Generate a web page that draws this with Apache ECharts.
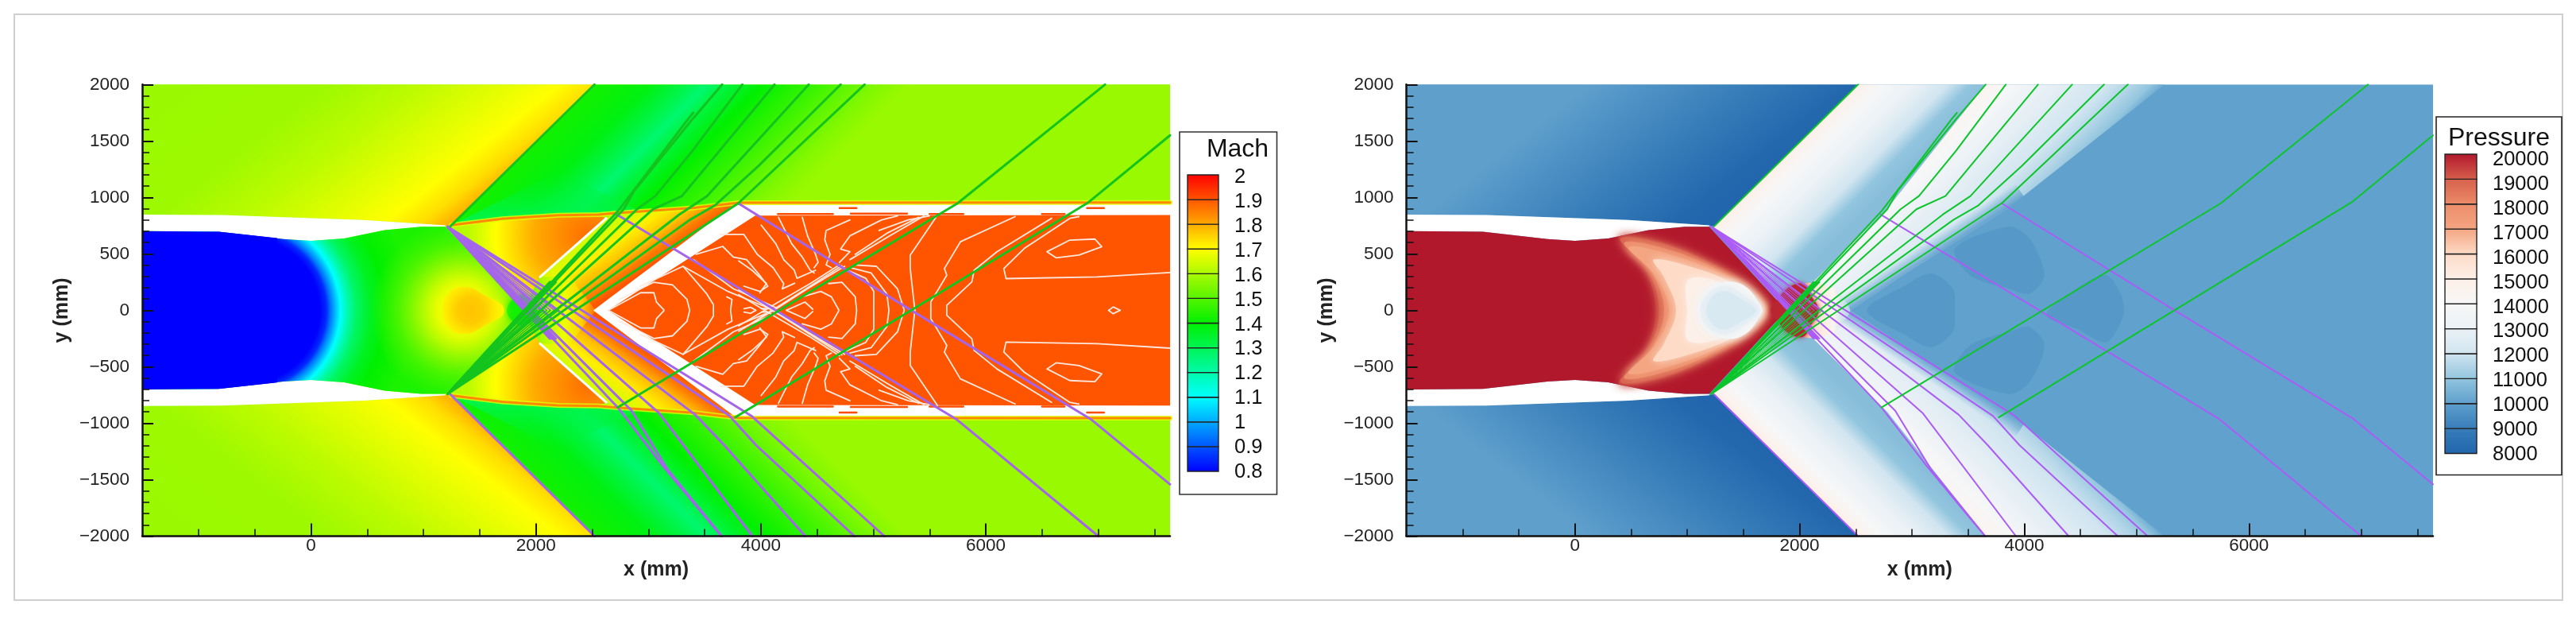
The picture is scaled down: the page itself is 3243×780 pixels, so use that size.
<!DOCTYPE html>
<html><head><meta charset="utf-8">
<style>html,body{margin:0;padding:0;background:#fff}#c{width:3243px;height:780px}</style>
<script src="https://cdn.jsdelivr.net/npm/echarts@6/dist/echarts.min.js"></script>
</head><body><div id="c"></div>
<script>
// ---------- axes ----------
const X_MIN=-1500, X_MAX=7638, Y_MIN=-2000, Y_MAX=2000;
const xMajorTicks=[0,2000,4000,6000];
const xMinorTicks=[-1000,-500,500,1000,1500,2500,3000,3500,4500,5000,5500,6500,7000,7500];
const machLevels=[0.8,0.9,1,1.1,1.2,1.3,1.4,1.5,1.6,1.7,1.8,1.9,2];
const pressureLevels=[8000,9000,10000,11000,12000,13000,14000,15000,16000,17000,18000,19000,20000];
// ---------- colour tables (value, r, g, b) ----------
const machColors=[[0.8,0,0,255],[1.1,0,255,255],[1.4,0,240,0],[1.7,255,255,0],[2,255,0,0]];
const pressureColors=[[8000,33,102,172],[9000,55,125,185],[10000,94,159,204],[11000,146,197,222],[12000,209,229,240],[13000,235,241,246],[14000,247,247,247],[15000,253,240,232],[16000,253,219,199],[17000,244,165,130],[18000,236,140,105],[19000,214,96,77],[20000,178,24,43]];
// ---------- geometry (mm) ----------
const wallInner=[[-1500,702],[-820,696],[-245,631],[0,616],[295,637],[655,711],[980,740],[1195,740]];
const wallOuter=[[-1500,848],[-785,844],[475,800],[1195,752]];
const shockTop=[[1238,743],[2521,2000]];
const shockBottom=[[1238,-743],[2521,-2000]];
const bandEdge=[[1248,754],[1700,810],[2200,842],[2555,848],[2696,860],[3402,907],[3802,953],[7638,955]];
const thinWall=[[2037,296],[2625,815]];
const outerPts=[[-1500,2000],[2521,2000],[1238,743],[1195,752],[475,800],[-785,844],[-1500,848]];
const machOuterStops=[[-2500,1.58],[-1500,1.585],[-1000,1.62],[-500,1.67],[-212,1.7],[0,1.74],[173,1.8]];
const pressOuterStops=[[-2500,10000],[-1500,10000],[-620,9000],[-64,8100],[173,8000]];
const bandPts=[[1238,743],[2521,2000],[7638,2000],[7638,955],[3802,953],[3402,907],[2696,860],[2555,848],[2200,842],[1700,810],[1248,754]];
const machBandStops=[[530,1.42],[1000,1.38],[1300,1.32],[1505,1.27],[1700,1.33],[2000,1.4],[2500,1.47],[3000,1.55],[3300,1.58],[6700,1.58]];
const cornerTint=[[1248,754],[2200,1230],[2900,890],[2696,860],[2200,842],[1700,810]];
const wedgePts=[[1215,745],[1248,754],[1700,810],[2200,842],[2555,848],[2625,815],[2037,296],[1880,0]];
const machWedgeStops=[[0,1.87],[470,1.8],[820,1.7],[1060,1.62],[1400,1.6]];
const rearPts=[[1950,0],[2037,296],[2625,815],[2696,860],[3402,907],[3802,953],[3900,875],[2531,0]];
const machRearStops=[[900,1.65],[1050,1.72],[1200,1.78],[1300,1.85],[1400,1.9]];
const crossPts=[[1880,0],[2037,296],[2300,300],[2531,0]];
const machCrossStops=[[1850,1.45],[2050,1.6],[2250,1.68],[2400,1.75],[2530,1.87]];
const ductWhite=[[2510,0],[3780,950],[7638,950],[7638,-950],[3780,-950]];
const ductCore=[[2640,0],[3950,838],[7638,844],[7638,-844],[3950,-838]];
const inletPts=[[-1500,702],[-820,696],[-300,640],[-300,-640],[-820,-696],[-1500,-702]];
const throatStops=[[0,0.8],[642,0.8],[700,0.85],[732,0.93],[822,1.1],[892,1.2],[962,1.28],[1092,1.36],[1217,1.4],[1469,1.43],[2400,1.43]];
const glowStops=[[0,1.7,1],[180,1.7,1],[350,1.62,0.95],[600,1.5,0.75],[820,1.48,0]];
const bubblePts=[[1177,0],[1231,163],[1375,207],[1519,148],[1717,0]];
const bubbleStops=[[0,1.77],[120,1.76],[230,1.72],[330,1.69]];
const greenSpot=[[1740,0],[1880,140],[2000,0]];
// pressure regions
const pressBandA=[[1238,743],[2521,2000],[3656,2000],[2780,900],[2100,230],[1880,0],[1215,740]];
const pressBandAStops=[[500,15000],[700,14000],[1000,13000],[1300,12000],[1500,11000],[1700,10800]];
const pressBandB=[[3656,2000],[5250,2000],[3850,900],[2900,300],[2450,0],[1880,0],[2100,230],[2780,900]];
const pressBandBStops=[[1656,14500],[1850,14000],[2124,13000],[2428,12500],[2710,12000],[2922,11500],[3100,11000],[3250,10000]];
const pressFade=[[2450,0],[2900,300],[3850,900],[4000,1000],[3916,1130],[3766,1030],[2816,430],[2366,130]];
const pressCrossPts=[[1800,0],[2050,240],[2300,200],[2450,0]];
const pressCrossStops=[[1800,19000],[2000,17000],[2150,15500],[2300,14500],[2450,11500]];
const pressBlob=[[1744,0],[1800,90],[1900,200],[2030,235],[2100,130],[2170,0]];
const level19500=[[720,0],[610,390],[390,650],[790,600],[1270,395],[1590,210],[1730,0]];
const level19000=[[748,0],[640,370],[405,637],[820,578],[1288,370],[1576,193],[1720,0]];
const level18000=[[795,0],[680,340],[440,600],[875,525],[1305,340],[1576,163],[1705,0]];
const level17000=[[838,0],[712,311],[480,560],[928,470],[1324,311],[1576,133],[1690,0]];
const level16000=[[900,0],[790,300],[700,450],[1050,380],[1400,240],[1660,0]];
const level15000=[[1000,0],[1000,260],[1180,281],[1468,163],[1648,0]];
const level14000=[[1090,0],[1180,193],[1396,252],[1540,193],[1648,50],[1670,0]];
const level13000=[[1115,0],[1180,150],[1350,215],[1504,130],[1650,0]];
const level12300=[[1170,0],[1230,130],[1340,170],[1480,100],[1620,0]];
const patchA=[[2600,0],[2945,222],[3173,326],[3363,193],[3382,0]];
const patchB=[[3382,548],[3856,741],[4046,637],[4179,311],[4046,148],[3856,193],[3515,311]];
const patchD=[[4730,311],[4862,133],[4881,-44],[4730,-281],[4464,-163],[4198,-44],[4464,193]];
// ---------- characteristic lines ----------
const greenLong=[[[2728,-860],[5749,948],[7060,2000]],[[3772,-948],[6914,957],[7638,1550]]];
const greenFan=[
 [[1215,-740],[2780,895],[2874,1059],[3392,1693],[3656,2000]],
 [[1215,-740],[2730,880],[2900,1100],[3350,1690],[3400,1750]],
 [[1215,-740],[2898,895],[3062,1012],[3391,1411],[3835,2000]],
 [[1215,-740],[3039,895],[3298,1012],[4122,2000]],
 [[1215,-740],[3274,848],[3521,1012],[4426,2000]],
 [[1215,-740],[3368,801],[3592,930],[3980,1280],[4710,2000]],
 [[1215,-740],[3799,948],[4922,2000]]];
const denseEndsX=[2123,2136,2149,2162,2176];
const thinEndsX=[1986,2011,2037,2066,2096,2129,2164,2202];
const purpleLong=[[[2721,848],[5736,-963],[7000,-2000]],[[3799,948],[5337,0],[6932,-963],[7638,-1541]]];
const purpleFan=[
 [[1215,740],[2733,-866],[3133,-1382],[3651,-2000]],
 [[1215,740],[2851,-889],[3168,-1406],[3651,-2000]],
 [[1215,740],[3098,-913],[3925,-2000]],
 [[1215,740],[3415,-924],[3674,-1194],[4395,-2000]],
 [[1215,740],[3722,-936],[3957,-1194],[4832,-2000]],
 [[1215,740],[3913,-933],[5098,-2000]]];
// ---------- Mach iso-lines in the duct (upper half, mirrored below) ----------
const contours=[
 [[2649,3],[2931,156],[3049,156],[3072,73],[3138,3]],
 [[2742,96],[3049,249],[3214,226],[3343,97],[3367,3]],
 [[2931,215],[3308,390],[3520,144],[3578,50],[3578,0]],
 [[3425,496],[3661,566],[3755,472],[3873,449],[3991,308],[4062,214],[3991,167],[3849,214]],
 [[3637,672],[3849,672],[3968,496],[4109,378],[4203,237],[4190,190],[4300,240]],
 [[3803,437],[3921,355],[4050,237],[3991,155]],
 [[4003,754],[4133,590],[4203,449],[4297,355],[4321,284],[4486,355]],
 [[4156,824],[4274,590],[4368,472],[4439,355],[4474,331]],
 [[4368,824],[4415,660],[4486,496],[4509,425],[4474,378]],
 [[4792,801],[4580,707],[4568,625],[4615,496],[4580,402],[4627,378]],
 [[5215,836],[5074,801],[4792,660],[4709,543],[4792,519],[4698,425]],
 [[5051,707],[5310,801],[5498,836]],
 [[4839,496],[5121,683],[5404,824]],
 [[4792,449],[5145,660],[5451,836]],
 [[3803,-185],[4156,26],[4415,191],[4745,390]],
 [[3803,-138],[4156,73],[4439,237],[4698,402]],
 [[3860,-150],[4180,50],[4440,215],[4720,395]],
 [[4227,0],[4392,73],[4462,10]],
 [[4368,120],[4533,167],[4627,120],[4693,3]],
 [[4603,237],[4721,249],[4839,120],[4851,3]],
 [[4745,367],[4933,284],[5004,167],[5004,3]],
 [[4792,378],[4980,331],[5121,143],[5138,3]],
 [[4839,402],[5027,390],[5215,190],[5274,3]],
 [[5571,844],[5328,488],[5328,370],[5369,0]],
 [[6261,830],[5774,607],[5632,370],[5653,311],[5511,74],[5511,0]],
 [[6585,815],[6099,519],[5896,355],[5876,252],[5653,44],[5653,0]],
 [[7638,335],[6990,296],[6180,281],[6160,370],[6342,548],[6747,815],[6828,830]],
 [[6544,519],[6747,622],[6970,631],[7031,563],[6828,489],[6625,465],[6544,519]],
 [[7092,0],[7133,30],[7194,0]],
 [[3697,120],[3743,96],[3731,3]],
 [[4002,15],[4085,15],[4085,0]],
 [[3850,15],[3908,27],[3955,0]],
 [[3308,390],[3708,167],[4108,3]],
 [[3402,449],[3755,191],[4131,26]]];
const wallNotches=[[[4152,853],[4640,853]],[[4800,856],[5300,856]],[[5500,853],[5800,853]],[[6500,853],[6700,853]],[[4700,905],[4850,905]],[[6900,905],[7050,905]]];

// ---------- helpers ----------
const hex=(r,g,b,a)=>`rgba(${Math.round(r)},${Math.round(g)},${Math.round(b)},${a==null?1:a})`;
function cmap(tbl,v,a){
  if(v<=tbl[0][0])return hex(tbl[0][1],tbl[0][2],tbl[0][3],a);
  for(let i=1;i<tbl.length;i++)if(v<=tbl[i][0]){
    const p=tbl[i-1],q=tbl[i],t=(v-p[0])/(q[0]-p[0]);
    return hex(p[1]+t*(q[1]-p[1]),p[2]+t*(q[2]-p[2]),p[3]+t*(q[3]-p[3]),a);
  }
  const l=tbl[tbl.length-1];return hex(l[1],l[2],l[3],a);
}
const flip=p=>p.map(q=>[q[0],-q[1]]);
const sym=p=>p.concat(flip(p).slice(1,-1).reverse());
const nozzlePts=wallInner.concat([[1880,0]],flip(wallInner).reverse());
const wallPts=wallOuter.concat(wallInner.slice().reverse());
const plotRect=[[X_MIN,Y_MAX],[X_MAX,Y_MAX],[X_MAX,Y_MIN],[X_MIN,Y_MIN]];
const OUTER_N=[0.618,-0.786], BAND_N=[0.7071,-0.7071], REAR_N=[0.57,-0.82], FADE_N=[0.545,-0.838];
const bandScale=s=>s.map(q=>[q[0]*0.7071,q[1]]);

function mirrorAll(layers){
  const out=[];
  layers.forEach(l=>{
    out.push(l);
    if(l.mirror){
      const m=Object.assign({},l,{pts:flip(l.pts)});
      if(l.lin)m.lin={n:[l.lin.n[0],-l.lin.n[1]],stops:l.lin.stops};
      if(l.rad)m.rad={c:[l.rad.c[0],-l.rad.c[1]],stops:l.rad.stops};
      out.push(m);
    }
  });
  return out;
}
const machLayers=mirrorAll([
 {pts:plotRect,val:1.58},
 {pts:outerPts,mirror:1,lin:{n:OUTER_N,stops:machOuterStops}},
 {pts:bandPts,mirror:1,lin:{n:BAND_N,stops:bandScale(machBandStops)}},
 {pts:cornerTint,mirror:1,lin:{n:[0,1],stops:[[760,1.3,0.95],[900,1.32,0.75],[1230,1.35,0]]}},
 {pts:wedgePts,mirror:1,rad:{c:[2460,660],stops:machWedgeStops}},
 {pts:rearPts,mirror:1,lin:{n:REAR_N,stops:machRearStops}},
 {pts:sym(crossPts),lin:{n:[1,0],stops:machCrossStops}},
 {pts:ductWhite,color:'#fff'},
 {pts:ductCore,val:1.9},
 {pts:wallPts,mirror:1,color:'#fff'},
 {pts:nozzlePts,rad:{c:[-562,0],stops:throatStops}},
 {pts:inletPts,val:0.8},
 {pts:nozzlePts,rad:{c:[1350,0],stops:glowStops}},
 {pts:sym(greenSpot),val:1.42,smooth:0.4,blur:10},
 {pts:sym(bubblePts),rad:{c:[1420,0],stops:bubbleStops},smooth:0.5,blur:14,blurVal:1.66}
]);
const level=(p,v)=>({pts:sym(p),val:v,smooth:0.35,blur:12});
const pressLayers=mirrorAll([
 {pts:plotRect,val:10050},
 {pts:outerPts,mirror:1,lin:{n:OUTER_N,stops:pressOuterStops}},
 {pts:patchA.concat(flip(patchA).slice(1,-1).reverse()),val:9800,smooth:0.3},
 {pts:patchB,mirror:1,val:9800,smooth:0.3},
 {pts:patchD,val:9800,smooth:0.3},
 {pts:pressBandA,mirror:1,lin:{n:BAND_N,stops:bandScale(pressBandAStops)}},
 {pts:pressBandB,mirror:1,lin:{n:BAND_N,stops:bandScale(pressBandBStops)}},
 {pts:pressFade,mirror:1,lin:{n:FADE_N,stops:[[1180,10050,0],[1335,10050,1]]}},
 {pts:wallPts,mirror:1,color:'#fff'},
 {pts:nozzlePts,val:20000},
 level(level19500,19500),level(level19000,19000),level(level18000,18000),level(level17000,17000),level(level16000,16000),level(level15000,15000),
 level(level14000,14000),level(level13000,13000),level(level12300,12300),
 {pts:sym(pressCrossPts),lin:{n:[1,0],stops:pressCrossStops},smooth:0.2},
 {pts:sym(pressBlob),val:19800,smooth:0.4,blur:6}
]);

function fieldSeries(layers,tbl,xi,yi){
  return {type:'custom',xAxisIndex:xi,yAxisIndex:yi,silent:true,z:1,clip:true,animation:false,
    data:layers.map((l,i)=>[i]),
    renderItem(params,api){
      const l=layers[api.value(0)];
      const pts=l.pts.map(p=>api.coord(p));
      let fill=l.color;
      if(l.val!=null)fill=cmap(tbl,l.val);
      if(l.lin){
        const n=l.lin.n,st=l.lin.stops,a=st[0][0],b=st[st.length-1][0];
        const p0=api.coord([n[0]*a,n[1]*a]),p1=api.coord([n[0]*b,n[1]*b]);
        fill={type:'linear',global:true,x:p0[0],y:p0[1],x2:p1[0],y2:p1[1],
          colorStops:st.map(q=>({offset:(q[0]-a)/(b-a),color:cmap(tbl,q[1],q[2])}))};
      }
      if(l.rad){
        const st=l.rad.stops,R=st[st.length-1][0],c=api.coord(l.rad.c),e=api.coord([l.rad.c[0]+R,l.rad.c[1]]);
        fill={type:'radial',global:true,x:c[0],y:c[1],r:e[0]-c[0],
          colorStops:st.map(q=>({offset:q[0]/R,color:cmap(tbl,q[1],q[2])}))};
      }
      const style={fill};
      if(l.blur){style.shadowBlur=l.blur;style.shadowColor=cmap(tbl,l.blurVal!=null?l.blurVal:l.val);}
      return {type:'polygon',shape:{points:pts,smooth:l.smooth||0},style};
    }};
}
const ln=(pts,xi,yi,color,w,z)=>({type:'line',data:pts,xAxisIndex:xi,yAxisIndex:yi,showSymbol:false,silent:true,
  animation:false,z:z,lineStyle:{color:color,width:w,cap:'round',join:'round'},emphasis:{disabled:true}});

function fanLines(xi,green,purple,w){
  const s=[];
  const yi=xi?1:0;
  const thin=Math.max(1,w-1.5);
  thinEndsX.forEach(x=>{
    s.push(ln([[1215,-740],[x,0]],xi,yi,green,thin,6));
    s.push(ln([[1215,740],[x,0]],xi,yi,purple,thin,5));
  });
  denseEndsX.forEach(x=>{
    s.push(ln([[1215,-740],[x,250]],xi,yi,green,w,6));
    s.push(ln([[1215,740],[x,-250]],xi,yi,purple,w,5));
  });
  purpleFan.concat(purpleLong,[shockBottom]).forEach(p=>s.push(ln(p,xi,yi,purple,w,5)));
  greenFan.concat(greenLong,[shockTop]).forEach(p=>s.push(ln(p,xi,yi,green,w,6)));
  return s;
}
// ---------- chart ----------
const GRID_TOP=106.3, GRID_H=568.2;
const minusFmt=v=>String(v).replace('-','\u2212');
const tickText={color:'#222',fontFamily:'Liberation Sans',fontSize:22.5};
function mainX(g){return {type:'value',gridIndex:g,min:X_MIN,max:X_MAX,z:10,position:'bottom',splitLine:{show:false},
  axisLine:{show:true,onZero:false,lineStyle:{color:'#111',width:2.5}},
  axisTick:{show:true,inside:true,length:16,customValues:xMajorTicks,lineStyle:{color:'#111',width:2}},
  axisLabel:Object.assign({show:true,margin:1,customValues:xMajorTicks,formatter:minusFmt},tickText),
  name:'x (mm)',nameLocation:'middle',nameGap:16,nameTextStyle:{fontFamily:'Liberation Sans',fontWeight:'bold',fontSize:25,color:'#222',lineHeight:28}};}
function minorX(g){return {type:'value',gridIndex:g,min:X_MIN,max:X_MAX,z:10,position:'bottom',splitLine:{show:false},
  axisLine:{show:false,onZero:false},axisLabel:{show:false},
  axisTick:{show:true,inside:true,length:9,customValues:xMinorTicks,lineStyle:{color:'#111',width:1.5}}};}
function mainY(g){return {type:'value',gridIndex:g,min:Y_MIN,max:Y_MAX,interval:500,z:10,splitLine:{show:false},
  axisLine:{show:true,onZero:false,lineStyle:{color:'#111',width:2.5}},
  axisTick:{show:true,inside:true,length:14,lineStyle:{color:'#111',width:2}},
  minorTick:{show:true,splitNumber:5,length:9,lineStyle:{color:'#111',width:1.5}},
  axisLabel:Object.assign({margin:16,formatter:minusFmt},tickText),
  name:'y (mm)',nameLocation:'middle',nameRotate:90,nameGap:88,nameTextStyle:{fontFamily:'Liberation Sans',fontWeight:'bold',fontSize:25,color:'#222'}};}
function legendSeries(levels,tbl,xi,yi){
  return {type:'custom',xAxisIndex:xi,yAxisIndex:yi,silent:true,animation:false,z:3,clip:false,
    data:levels.slice(0,-1).map((v,i)=>[i]),
    renderItem(p,api){
      const i=api.value(0),lo=levels[i],hi=levels[i+1];
      const a=api.coord([0,hi]),b=api.coord([1,lo]);
      return {type:'rect',shape:{x:a[0],y:a[1],width:b[0]-a[0],height:b[1]-a[1]},
        style:{stroke:'#222',lineWidth:1.4,fill:{type:'linear',x:0,y:0,x2:0,y2:1,colorStops:[{offset:0,color:cmap(tbl,hi)},{offset:1,color:cmap(tbl,lo)}]}}};
    }};
}
function legendX(g){return {type:'value',gridIndex:g,min:0,max:1,show:false};}
function barY(g,min,max,step){return {type:'value',gridIndex:g,min,max,interval:step,show:false};}
function labelY(g,min,max,step){return {type:'value',gridIndex:g,min,max,interval:step,position:'right',splitLine:{show:false},
  axisLine:{show:false},axisTick:{show:false},
  axisLabel:{margin:20,color:'#111',fontFamily:'Liberation Sans',fontSize:25.5,formatter:v=>String(v)}};}

const contourAll=contours.concat(contours.map(flip));
const series=[
 fieldSeries(machLayers,machColors,0,0),
 ...[bandEdge].flatMap(p=>[p,flip(p)]).map(p=>ln(p,0,0,'rgba(225,255,0,0.85)',6,2)),
 ...[bandEdge].flatMap(p=>[p,flip(p)]).map(p=>ln(p,0,0,'#ff8a00',3,2)),
 ...[thinWall,flip(thinWall)].map(p=>ln(p,0,0,'#fff',3,2)),
 ...wallNotches.flatMap(p=>[p,flip(p)]).map(p=>ln(p,0,0,'#ff4d00',2.5,3)),
 ...contourAll.map(p=>ln(p,0,0,'#ffe9de',1.8,3)),
 ...fanLines(0,'#14c41e','#a565ea',3),
 fieldSeries(pressLayers,pressureColors,2,1),
 ...fanLines(2,'#0cc52a','#ab5cf5',2),
 legendSeries(machLevels,machColors,4,2),
 legendSeries(pressureLevels,pressureColors,5,3)
];
const chart=echarts.init(document.getElementById('c'),null,{renderer:'canvas'});
chart.setOption({
 animation:false,backgroundColor:'#fff',
 grid:[
  {left:179.1,width:1293.9,top:GRID_TOP,height:GRID_H},
  {left:1770.6,width:1292.4,top:GRID_TOP,height:GRID_H},
  {left:1495,width:39,top:220,height:373},
  {left:3078,width:40,top:194,height:376.5},
  {left:1495,width:39,top:223,height:371},
  {left:3078,width:40,top:201,height:371}],
 xAxis:[mainX(0),minorX(0),mainX(1),minorX(1),legendX(2),legendX(3),legendX(4),legendX(5)],
 yAxis:[mainY(0),mainY(1),barY(2,0.8,2,0.1),barY(3,8000,20000,1000),labelY(4,0.8,2,0.1),labelY(5,8000,20000,1000)],
 graphic:[
  {type:'rect',silent:true,z:-1,shape:{x:18,y:18,width:3208,height:737},style:{fill:'#fff',stroke:'#cfcfcf',lineWidth:2}},
  {type:'rect',silent:true,z:0,shape:{x:1485,y:166,width:122.5,height:456},style:{fill:'#fff',stroke:'#333',lineWidth:1.6}},
  {type:'rect',silent:true,z:0,shape:{x:3067,y:147,width:158,height:450.5},style:{fill:'#fff',stroke:'#222',lineWidth:1.6}},
  {type:'text',silent:true,z:5,style:{x:1558,y:188,text:'Mach',fill:'#111',font:'32px "Liberation Sans"',textAlign:'center',textVerticalAlign:'middle'}},
  {type:'text',silent:true,z:5,style:{x:3146,y:174,text:'Pressure',fill:'#111',font:'32px "Liberation Sans"',textAlign:'center',textVerticalAlign:'middle'}}
 ],
 series
});
</script></body></html>
